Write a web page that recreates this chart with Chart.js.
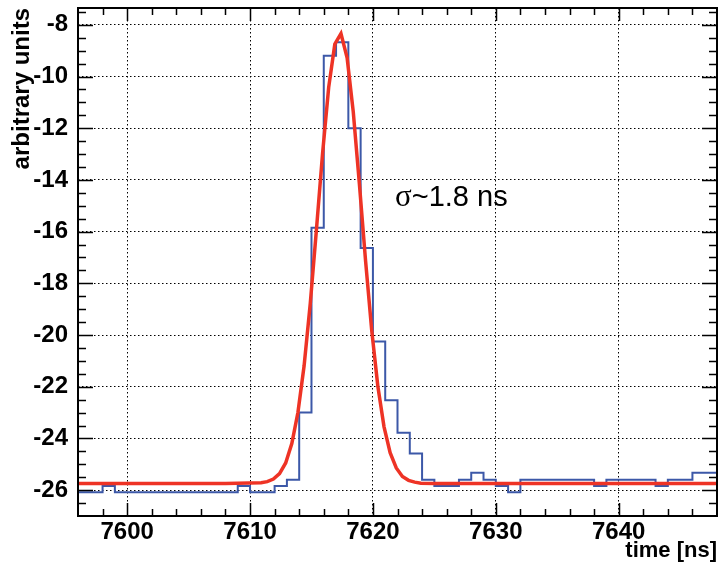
<!DOCTYPE html>
<html lang="en">
<head>
<meta charset="UTF-8">
<title>time distribution</title>
<script src="https://cdn.jsdelivr.net/npm/chart.js"></script>
<style>
  html, body { margin: 0; padding: 0; background: #fff; }
  canvas { display: block; }
</style>
</head>
<body>
<canvas id="timeChart" width="723" height="565"></canvas>
<script>
// histogram, 1 ns bins from binStart
const binStart = 7596;
const binWidth = 1;
const binValues = [
  -26.08, -26.08, -25.84, -26.08, -26.08, -26.08, -26.08, -26.08, -26.08, -26.08,
  -26.08, -26.08, -26.08, -25.84, -26.08, -26.08, -25.84, -25.6, -23.0, -15.85,
  -9.2, -8.67, -12.0, -16.63, -20.25, -22.52, -23.78, -24.58, -25.6, -25.84,
  -25.84, -25.6, -25.33, -25.6, -25.84, -26.08, -25.6, -25.6, -25.6, -25.6,
  -25.6, -25.6, -25.84, -25.6, -25.6, -25.6, -25.6, -25.84, -25.6, -25.6,
  -25.33, -25.33
];

// red fit curve
const fitTimes = [7596, 7608, 7610.9, 7611.4, 7611.9, 7612.4, 7612.9, 7613.4, 7613.9, 7614.4,
  7614.9, 7615.4, 7615.9, 7616.4, 7616.9, 7617.4, 7617.9, 7618.4, 7618.9, 7619.4,
  7619.9, 7620.4, 7620.9, 7621.4, 7621.9, 7622.4, 7622.9, 7623.4, 7623.9, 7625, 7648];
const fitValues = [-25.74, -25.74, -25.71, -25.67, -25.57, -25.36, -24.95, -24.20, -22.99, -21.19,
  -18.79, -15.94, -12.99, -10.42, -8.75, -8.34, -9.28, -11.37, -14.16, -17.12,
  -19.81, -21.98, -23.54, -24.55, -25.14, -25.47, -25.62, -25.69, -25.73, -25.74, -25.74];

const xTickValues = [7600, 7610, 7620, 7630, 7640];
const yTickValues = [-26, -24, -22, -20, -18, -16, -14, -12, -10, -8];

const labelFont = { family: '"Liberation Sans", Arial, sans-serif', weight: 'bold', size: 24, lineHeight: 1 };
const titleFont = { family: '"Liberation Sans", Arial, sans-serif', weight: 'bold', size: 22, lineHeight: 1 };

const histPoints = binValues.map((v, i) => ({ x: binStart + i * binWidth, y: v }));
histPoints.push({ x: binStart + binValues.length * binWidth, y: binValues[binValues.length - 1] });
const fitPoints = fitTimes.map((t, i) => ({ x: t, y: fitValues[i] }));

// ROOT style frame with ticks pointing inwards on all four sides
const rootFrame = {
  id: 'rootFrame',
  afterDraw(chart) {
    const { ctx, chartArea: a, scales: { x, y } } = chart;
    ctx.save();
    ctx.strokeStyle = '#000';
    ctx.lineWidth = 1.5;
    ctx.beginPath();
    for (let t = 7598; t < x.max; t += 2) {
      const px = Math.round(x.getPixelForValue(t)) + 0.5;
      const len = t % 10 === 0 ? 13 : 7;
      ctx.moveTo(px, a.bottom); ctx.lineTo(px, a.bottom - len);
      ctx.moveTo(px, a.top); ctx.lineTo(px, a.top + len);
    }
    for (let v = -26.5; v <= -7.5; v += 0.5) {
      const py = Math.round(y.getPixelForValue(v)) + 0.5;
      const len = v % 2 === 0 ? 15 : 8;
      ctx.moveTo(a.left, py); ctx.lineTo(a.left + len, py);
      ctx.moveTo(a.right, py); ctx.lineTo(a.right - len, py);
    }
    ctx.stroke();
    ctx.lineWidth = 2;
    ctx.strokeRect(a.left, a.top, a.right - a.left, a.bottom - a.top);
    ctx.restore();
  }
};

const sigmaLabel = {
  id: 'sigmaLabel',
  afterDatasetsDraw(chart) {
    const { ctx, scales: { x, y } } = chart;
    const px = x.getPixelForValue(7621.8);
    const py = y.getPixelForValue(-15.0);
    ctx.save();
    ctx.fillStyle = '#000';
    ctx.textBaseline = 'alphabetic';
    ctx.textAlign = 'left';
    ctx.font = '31px "Liberation Serif", serif';
    ctx.fillText('σ', px, py);
    const w = ctx.measureText('σ').width;
    ctx.font = '29px "Liberation Sans", Arial, sans-serif';
    ctx.fillText('~1.8 ns', px + w, py);
    ctx.restore();
  }
};

new Chart(document.getElementById('timeChart'), {
  type: 'line',
  data: {
    datasets: [
      {
        label: 'fit',
        data: fitPoints,
        borderColor: '#ee3325',
        borderWidth: 3.5,
        pointRadius: 0,
        tension: 0,
        fill: false
      },
      {
        label: 'data',
        data: histPoints,
        borderColor: '#3c58a8',
        borderWidth: 2,
        pointRadius: 0,
        stepped: 'before',
        fill: false
      }
    ]
  },
  options: {
    responsive: false,
    animation: false,
    devicePixelRatio: 1,
    layout: { padding: { top: 8, right: 6, left: 0, bottom: 0 } },
    plugins: {
      legend: { display: false },
      tooltip: { enabled: false }
    },
    scales: {
      x: {
        type: 'linear',
        min: 7596,
        max: 7648,
        afterBuildTicks: (s) => { s.ticks = xTickValues.map(v => ({ value: v })); },
        afterFit: (s) => { s.height = 49; },
        ticks: { font: labelFont, color: '#000', padding: 4, maxRotation: 0, callback: (v) => String(v) },
        grid: { color: '#000', lineWidth: 1, drawTicks: false },
        border: { display: false, dash: [1.5, 2.5] },
        title: {
          display: true,
          text: 'time [ns]',
          align: 'end',
          color: '#000',
          font: titleFont,
          padding: { top: 0, bottom: 3 }
        }
      },
      y: {
        min: -27,
        max: -7.35,
        afterBuildTicks: (s) => { s.ticks = yTickValues.map(v => ({ value: v })); },
        afterFit: (s) => { s.width = 78; s.paddingTop = 0; s.paddingBottom = 0; },
        ticks: { font: labelFont, color: '#000', padding: 10 },
        grid: { color: '#000', lineWidth: 1, drawTicks: false },
        border: { display: false, dash: [1.5, 2.5] },
        title: {
          display: true,
          text: 'arbitrary units',
          align: 'end',
          color: '#000',
          font: { family: '"Liberation Sans", Arial, sans-serif', weight: 'bold', size: 24, lineHeight: 1 },
          padding: { top: 10, bottom: 0 }
        }
      }
    }
  },
  plugins: [rootFrame, sigmaLabel]
});
</script>
</body>
</html>
